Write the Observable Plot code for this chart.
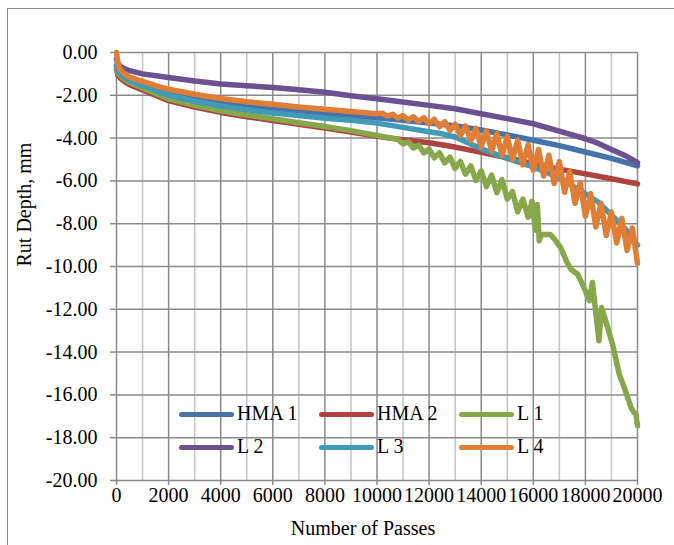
<!DOCTYPE html>
<html><head><meta charset="utf-8">
<script src="https://cdn.jsdelivr.net/npm/d3@7"></script>
<script src="https://cdn.jsdelivr.net/npm/@observablehq/plot@0.6"></script>
<style>
body{margin:0;background:#fff;}
#wrap{position:relative;width:674px;height:545px;overflow:hidden;font-family:"Liberation Serif","Times New Roman",serif;}
#border{position:absolute;left:7px;top:8px;width:720px;height:600px;border:1.5px solid #8a8a8a;box-sizing:border-box;pointer-events:none;}
.leg{position:absolute;font-size:20px;line-height:20px;color:#000;white-space:nowrap;}
.sw{position:absolute;height:5px;border-radius:3px;}
</style></head>
<body>
<div id="wrap"><div id="border"></div></div>
<script>
const seriesNames = ["HMA 1","HMA 2","L 1","L 2","L 3","L 4"];
const seriesColors = ["#4673ab","#ae433f","#87a84a","#6c5192","#419bb7","#e07e36"];
const xMajorTicks = [0,2000,4000,6000,8000,10000,12000,14000,16000,18000,20000];
const xMinorGrid = [1000,3000,5000,7000,9000,11000,13000,15000,17000,19000];
const yTicks = [0,-2,-4,-6,-8,-10,-12,-14,-16,-18,-20];

const hma1 = [[0,-0.6],[50,-0.8],[150,-0.95],[300,-1.1],[500,-1.25],[1000,-1.5],[2000,-1.9],[3000,-2.15],[4000,-2.35],[5000,-2.52],[6000,-2.65],[7000,-2.77],[8000,-2.88],[9000,-2.97],[10000,-3.05],[11000,-3.17],[12000,-3.3],[13000,-3.42],[14000,-3.62],[15000,-3.85],[16000,-4.1],[17000,-4.35],[18000,-4.65],[19000,-4.95],[20000,-5.3]];
const hma2 = [[0,-0.8],[50,-1.05],[150,-1.2],[300,-1.35],[500,-1.5],[1000,-1.75],[2000,-2.25],[3000,-2.55],[4000,-2.8],[5000,-3.0],[6000,-3.18],[7000,-3.36],[8000,-3.53],[9000,-3.72],[10000,-3.92],[11000,-4.08],[12000,-4.22],[13000,-4.42],[14000,-4.66],[15000,-4.92],[16000,-5.2],[17000,-5.45],[18000,-5.67],[19000,-5.9],[20000,-6.14]];
const l1 = [[0,-0.7],[50,-0.95],[150,-1.1],[300,-1.25],[500,-1.4],[1000,-1.66],[2000,-2.17],[3000,-2.47],[4000,-2.72],[5000,-2.92],[6000,-3.1],[7000,-3.28],[8000,-3.46],[9000,-3.65],[10000,-3.88],[10400,-3.97],[10800,-4.05],[11000,-4.27],[11200,-4.17],[11400,-4.47],[11600,-4.33],[11800,-4.69],[12000,-4.51],[12200,-4.92],[12400,-4.69],[12600,-5.16],[12800,-4.89],[13000,-5.42],[13200,-5.09],[13400,-5.69],[13600,-5.3],[13800,-5.98],[14000,-5.53],[14200,-6.27],[14400,-5.73],[14600,-6.55],[14800,-5.94],[15000,-6.85],[15200,-6.5],[15400,-7.45],[15600,-6.85],[15800,-7.7],[15950,-6.95],[16080,-8.3],[16150,-7.1],[16230,-8.8],[16300,-8.5],[16650,-8.5],[16800,-8.7],[17050,-9.12],[17300,-9.82],[17450,-10.13],[17700,-10.36],[17950,-10.99],[18150,-11.6],[18270,-10.75],[18520,-13.47],[18620,-11.92],[18780,-12.54],[19040,-13.63],[19300,-15.03],[19490,-15.65],[19750,-16.58],[19850,-16.8],[19940,-16.9],[20000,-17.45]];
const l2 = [[0,-0.3],[50,-0.5],[150,-0.65],[300,-0.75],[500,-0.85],[1000,-1.0],[2000,-1.17],[3000,-1.33],[4000,-1.47],[5000,-1.55],[6000,-1.64],[7000,-1.74],[8000,-1.86],[9000,-2.02],[10000,-2.16],[11000,-2.31],[12000,-2.47],[13000,-2.63],[14000,-2.86],[15000,-3.09],[16000,-3.33],[17000,-3.67],[18000,-4.03],[18500,-4.25],[19000,-4.53],[19500,-4.8],[20000,-5.15]];
const l3 = [[0,-0.6],[50,-0.85],[150,-1.0],[300,-1.15],[500,-1.3],[1000,-1.55],[2000,-2.0],[3000,-2.28],[4000,-2.5],[5000,-2.68],[6000,-2.83],[7000,-2.95],[8000,-3.07],[9000,-3.17],[10000,-3.3],[11000,-3.5],[12000,-3.7],[12500,-3.8],[13000,-3.95],[14000,-4.5],[15000,-4.95],[16000,-5.35],[17000,-5.85],[18000,-6.6],[18500,-7.0],[19000,-7.6],[19500,-8.2],[20000,-9.0]];
const l4 = [[0,0],[30,-0.3],[100,-0.7],[250,-0.95],[500,-1.15],[1000,-1.35],[1500,-1.55],[2000,-1.72],[3000,-1.95],[4000,-2.15],[5000,-2.3],[6000,-2.42],[7000,-2.55],[8000,-2.65],[9000,-2.76],[10000,-2.86],[10200,-2.84],[10400,-2.97],[10600,-2.89],[10800,-3.06],[11000,-2.95],[11200,-3.15],[11400,-3.0],[11600,-3.23],[11800,-3.05],[12000,-3.33],[12200,-3.12],[12400,-3.47],[12600,-3.23],[12800,-3.64],[13000,-3.35],[13200,-3.89],[13400,-3.43],[13600,-4.11],[13800,-3.55],[14000,-4.4],[14200,-3.66],[14400,-4.61],[14600,-3.79],[14800,-4.81],[15000,-3.92],[15200,-5.0],[15400,-4.1],[15600,-5.25],[15800,-4.31],[16000,-5.5],[16200,-4.53],[16400,-5.77],[16600,-4.8],[16800,-6.12],[17000,-5.1],[17200,-6.53],[17400,-5.57],[17600,-7.05],[17800,-6.08],[18000,-7.65],[18200,-6.6],[18400,-8.15],[18600,-7.05],[18800,-8.55],[19000,-7.45],[19200,-8.9],[19400,-7.75],[19600,-9.25],[19800,-8.2],[20000,-9.85]];

const seriesValues = [hma1,hma2,l1,l2,l3,l4];
const data = seriesNames.flatMap((name,i) => seriesValues[i].map(([x,y]) => ({name, x, y})));

const grid = "#8a8a8a";
const serif = "'Liberation Serif','Times New Roman',serif";
const chart = Plot.plot({
  width: 674, height: 545,
  marginLeft: 116, marginRight: 37, marginTop: 52, marginBottom: 65,
  x: {domain: [0,20000]},
  y: {domain: [-20,0]},
  color: {domain: seriesNames, range: seriesColors},
  style: {fontFamily: serif, fontSize: "20px", color: "#000", background: "transparent"},
  marks: [
    Plot.ruleX(xMinorGrid, {stroke: "#c4c4c4", strokeWidth: 1.5}),
    Plot.ruleX(xMajorTicks, {stroke: grid, strokeWidth: 1.5}),
    Plot.ruleY(yTicks, {stroke: grid, strokeWidth: 1.5}),
    Plot.axisY({ticks: yTicks, tickFormat: () => "", tickSize: 6, stroke: grid, strokeWidth: 1.5, label: null}),
    Plot.axisX({ticks: xMajorTicks, tickFormat: () => "", tickSize: 5, stroke: grid, strokeWidth: 1.5, label: null}),
    Plot.text(yTicks, {y: d => d, frameAnchor: "left", dx: -19, textAnchor: "end", text: d => d.toFixed(2), fontSize: 20, fontFamily: serif, fill: "#000"}),
    Plot.text(xMajorTicks, {x: d => d, frameAnchor: "bottom", dy: 21, text: d => String(d), fontSize: 20, fontFamily: serif, fill: "#000"}),
    Plot.line(data, {x: "x", y: "y", z: "name", stroke: "name", strokeWidth: 5.5, strokeLinejoin: "round", strokeLinecap: "round"}),
    Plot.text(["Rut Depth, mm"], {frameAnchor: "left", rotate: -90, dx: -92, fontSize: 20, fontFamily: serif}),
    Plot.text(["Number of Passes"], {frameAnchor: "bottom", dy: 54, dx: -14, fontSize: 20, fontFamily: serif})
  ]
});
const wrap = document.getElementById("wrap");
wrap.insertBefore(chart, wrap.firstChild);

// legend overlay (inside plot area, two rows of three)
const legCols = [179, 319, 459];
const legRows = [414, 447];
seriesNames.forEach((name, i) => {
  const cx = legCols[i % 3], cy = legRows[Math.floor(i / 3)];
  const sw = document.createElement("div");
  sw.className = "sw";
  sw.style.left = cx + "px"; sw.style.top = (cy - 2.5) + "px"; sw.style.width = "55px";
  sw.style.background = seriesColors[i];
  wrap.appendChild(sw);
  const t = document.createElement("div");
  t.className = "leg";
  t.style.left = (cx + 58) + "px"; t.style.top = (cy - 11) + "px";
  t.textContent = name;
  wrap.appendChild(t);
});
</script>
</body></html>
